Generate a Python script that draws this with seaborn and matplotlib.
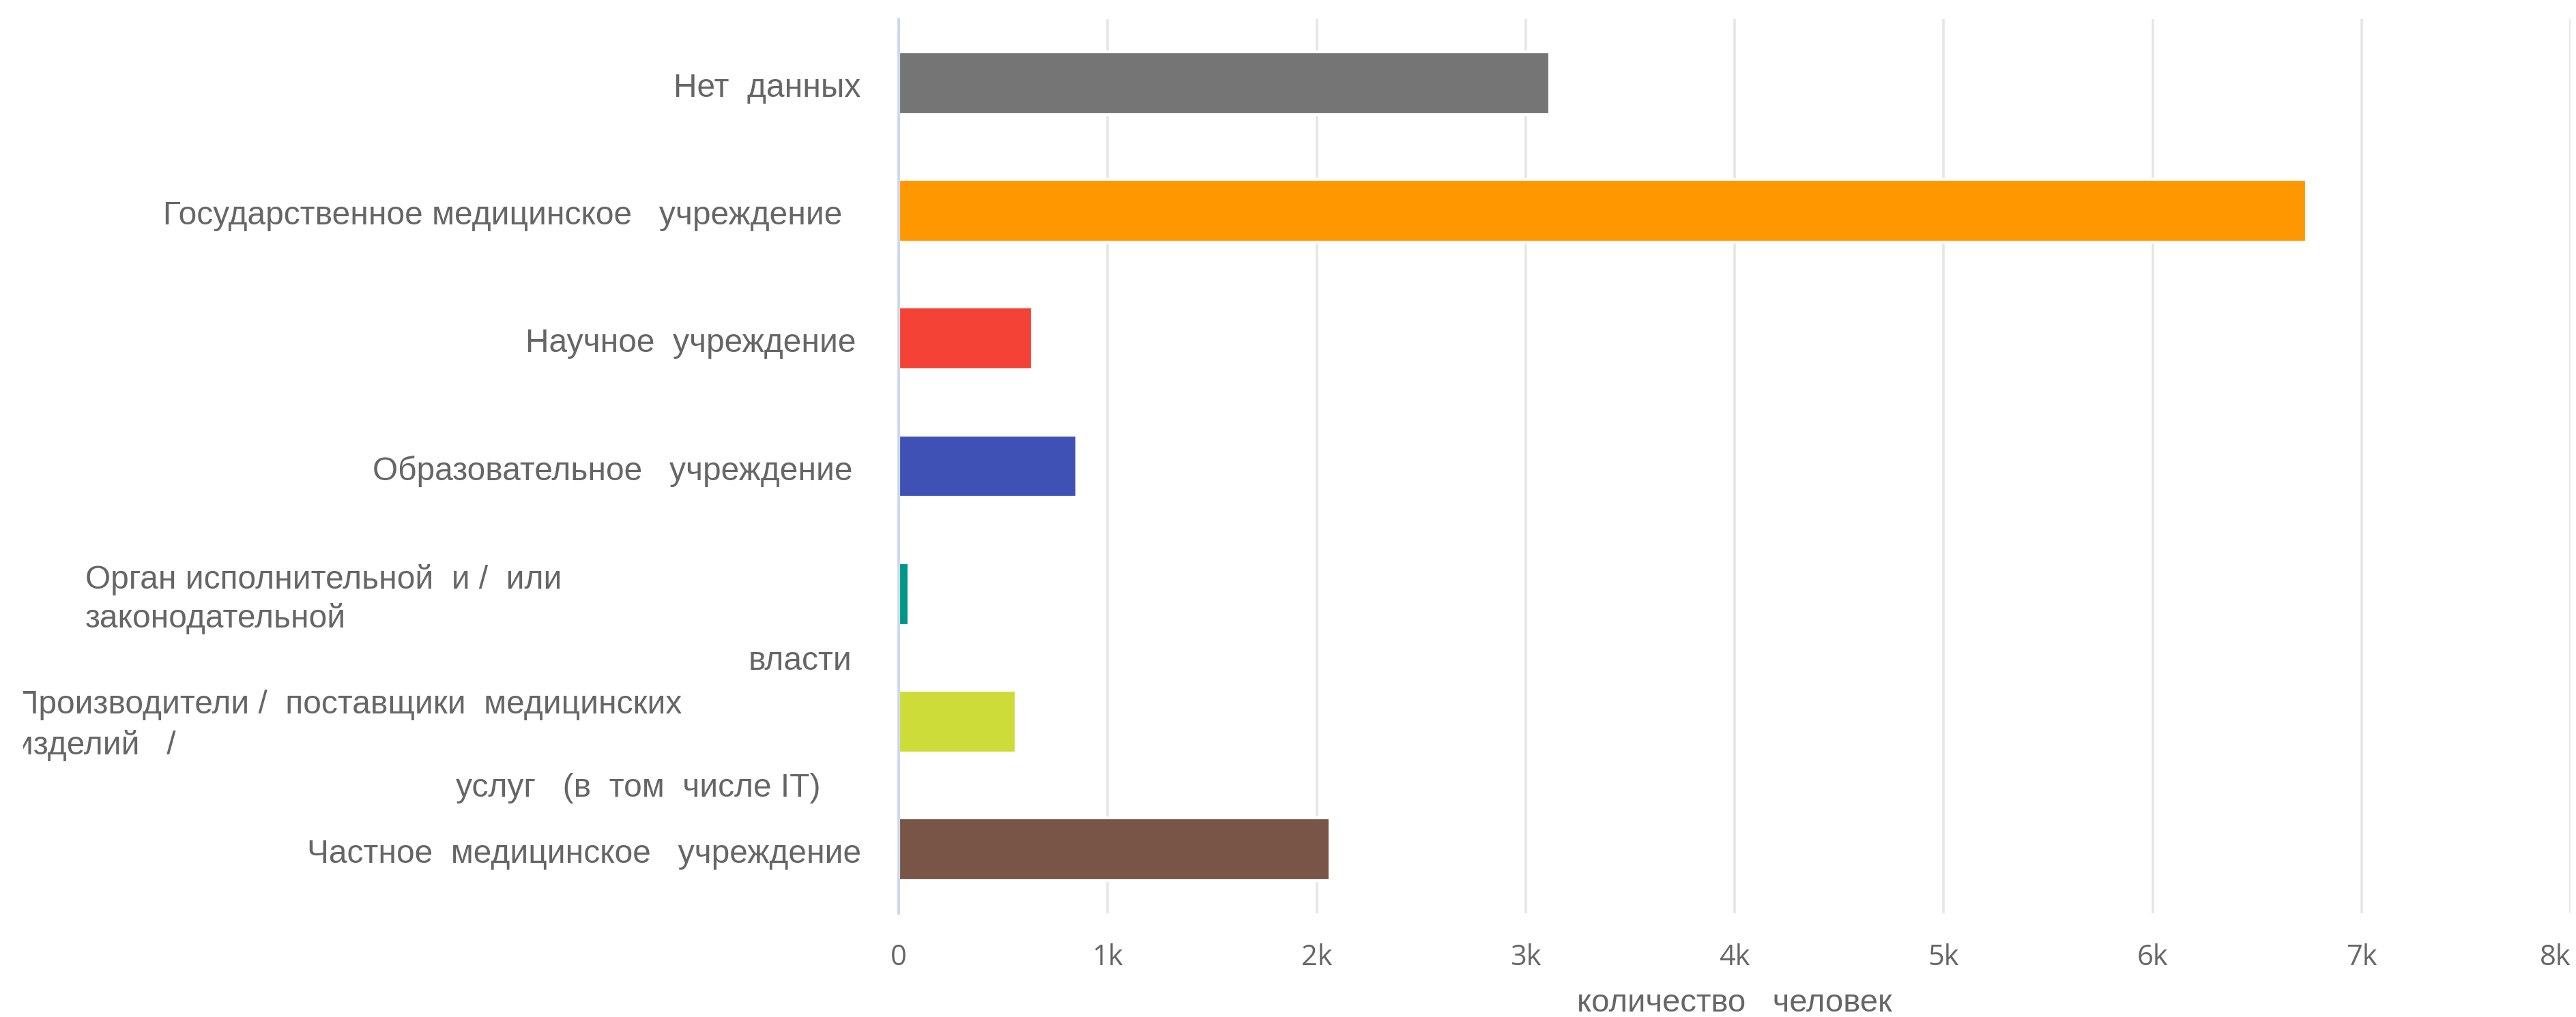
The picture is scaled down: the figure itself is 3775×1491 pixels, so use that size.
import matplotlib
matplotlib.use('Agg')
import matplotlib.pyplot as plt
from matplotlib.transforms import Bbox, TransformedBbox, blended_transform_factory
import seaborn as sns

# data
categories = ['Нет данных', 'Государственное медицинское учреждение', 'Научное учреждение',
              'Образовательное учреждение', 'Орган исполнительной и/или законодательной власти',
              'Производители/поставщики медицинских изделий/услуг (в том числе IT)',
              'Частное медицинское учреждение']
people = [3115, 6735, 640, 851, 48, 562, 2063]
colors = ['#757575', '#FF9800', '#F44336', '#3F51B5', '#009688', '#CDDC39', '#795548']
tick_values = [0, 1000, 2000, 3000, 4000, 5000, 6000, 7000, 8000]
tick_labels = ['0', '1k', '2k', '3k', '4k', '5k', '6k', '7k', '8k']

# label lines as drawn on the chart: (category index, text, x px, baseline offset px, align)
label_lines = [
    (0, 'Нет  данных', 1261, 20, 'right'),
    (1, 'Государственное медицинское   учреждение', 1234, 20, 'right'),
    (2, 'Научное  учреждение', 1254, 20, 'right'),
    (3, 'Образовательное   учреждение', 1250, 20, 'right'),
    (4, 'Орган исполнительной  и /  или', 125, -8, 'left'),
    (4, 'законодательной', 125, 49, 'left'),
    (4, 'власти', 1248, 111, 'right'),
    (5, 'Производители /  поставщики  медицинских', 22, -12, 'left'),
    (5, 'изделий   /', 22, 48, 'left'),
    (5, 'услуг   (в  том  числе IT)', 1203, 110, 'right'),
    (6, 'Частное  медицинское   учреждение', 1262, 20, 'right'),
]

sns.set_style('white')
plt.rcParams['font.family'] = ['Liberation Sans', 'DejaVu Sans']

W, H = 3775, 1491
fig = plt.figure(figsize=(W / 100, H / 100), dpi=100)
ax_left, ax_right, ax_top, ax_bottom = 1317, 3767, 28, 1339
ax = fig.add_axes([ax_left / W, 1 - ax_bottom / H, (ax_right - ax_left) / W, (ax_bottom - ax_top) / H])

sns.barplot(x=people, y=categories, hue=categories, palette=colors, legend=False,
            orient='h', width=0.49, edgecolor='white', linewidth=3, saturation=1, ax=ax)

ax.set_xlim(0, 8000)
ax.set_xticks(tick_values)
ax.set_xticklabels(tick_labels, fontfamily='Open Sans', fontsize=30, color='#666666')
ax.get_xticklabels()[-1].set_horizontalalignment('right')
ax.tick_params(axis='x', length=0, pad=32)
ax.tick_params(axis='y', length=0)
ax.set_yticklabels([])
ax.set_ylabel('')

ax.grid(axis='x', color='#e6e6e6', linewidth=2.6)
ax.set_axisbelow(True)
for side in ['top', 'right', 'bottom']:
    ax.spines[side].set_visible(False)
ax.spines['left'].set_color('#ccd6eb')
ax.spines['left'].set_linewidth(2.7)

ax.set_xlabel('количество   человек', fontsize=34, color='#666666')
ax.xaxis.label.set_va('center')
ax.xaxis.set_label_coords(0.5, -(1471 - ax_bottom) / (ax_bottom - ax_top))

# category labels, placed line by line
step = (ax_bottom - ax_top) / len(categories)
trans = blended_transform_factory(fig.transFigure, ax.transData)
clip = TransformedBbox(Bbox([[34 / W, 0], [1, 1]]), fig.transFigure)
for idx, txt, px, off, ha in label_lines:
    t = ax.text(px / W, idx + off / step, txt, transform=trans, ha=ha, va='baseline',
                fontsize=34.5, color='#666666')
    t.set_clip_box(clip)
    t.set_clip_on(True)

fig.savefig('out.png', dpi=100, facecolor='white')
